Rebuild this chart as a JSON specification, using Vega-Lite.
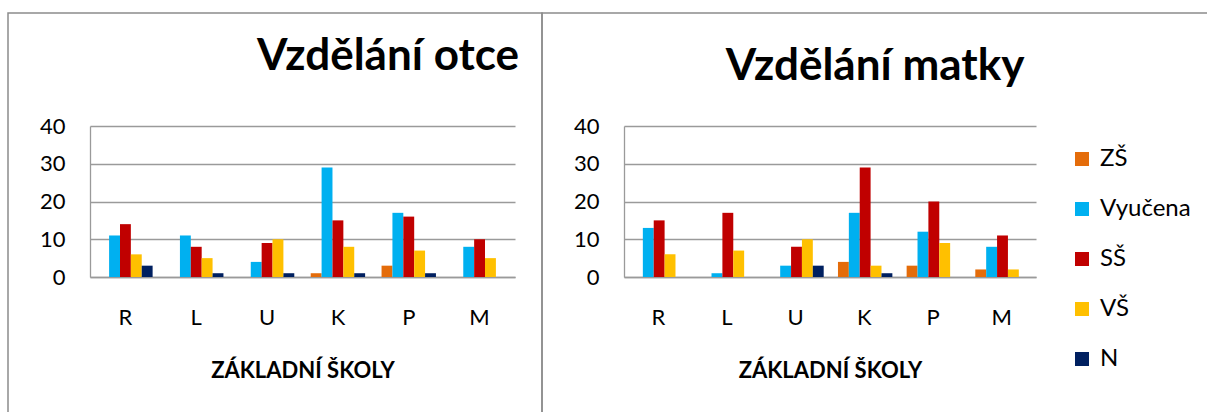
{
  "$schema": "https://vega.github.io/schema/vega-lite/v6.json",
  "padding": {"left": 7, "top": 12, "right": 0, "bottom": 0},
  "bounds": "flush",
  "spacing": 0,
  "background": "white",
  "datasets": {
    "otce": [
      {"skola": "R", "vzdelani": "ZŠ", "pocet": 0},
      {"skola": "R", "vzdelani": "Vyučena", "pocet": 11},
      {"skola": "R", "vzdelani": "SŠ", "pocet": 14},
      {"skola": "R", "vzdelani": "VŠ", "pocet": 6},
      {"skola": "R", "vzdelani": "N", "pocet": 3},
      {"skola": "L", "vzdelani": "ZŠ", "pocet": 0},
      {"skola": "L", "vzdelani": "Vyučena", "pocet": 11},
      {"skola": "L", "vzdelani": "SŠ", "pocet": 8},
      {"skola": "L", "vzdelani": "VŠ", "pocet": 5},
      {"skola": "L", "vzdelani": "N", "pocet": 1},
      {"skola": "U", "vzdelani": "ZŠ", "pocet": 0},
      {"skola": "U", "vzdelani": "Vyučena", "pocet": 4},
      {"skola": "U", "vzdelani": "SŠ", "pocet": 9},
      {"skola": "U", "vzdelani": "VŠ", "pocet": 10},
      {"skola": "U", "vzdelani": "N", "pocet": 1},
      {"skola": "K", "vzdelani": "ZŠ", "pocet": 1},
      {"skola": "K", "vzdelani": "Vyučena", "pocet": 29},
      {"skola": "K", "vzdelani": "SŠ", "pocet": 15},
      {"skola": "K", "vzdelani": "VŠ", "pocet": 8},
      {"skola": "K", "vzdelani": "N", "pocet": 1},
      {"skola": "P", "vzdelani": "ZŠ", "pocet": 3},
      {"skola": "P", "vzdelani": "Vyučena", "pocet": 17},
      {"skola": "P", "vzdelani": "SŠ", "pocet": 16},
      {"skola": "P", "vzdelani": "VŠ", "pocet": 7},
      {"skola": "P", "vzdelani": "N", "pocet": 1},
      {"skola": "M", "vzdelani": "ZŠ", "pocet": 0},
      {"skola": "M", "vzdelani": "Vyučena", "pocet": 8},
      {"skola": "M", "vzdelani": "SŠ", "pocet": 10},
      {"skola": "M", "vzdelani": "VŠ", "pocet": 5},
      {"skola": "M", "vzdelani": "N", "pocet": 0}
    ],
    "matky": [
      {"skola": "R", "vzdelani": "ZŠ", "pocet": 0},
      {"skola": "R", "vzdelani": "Vyučena", "pocet": 13},
      {"skola": "R", "vzdelani": "SŠ", "pocet": 15},
      {"skola": "R", "vzdelani": "VŠ", "pocet": 6},
      {"skola": "R", "vzdelani": "N", "pocet": 0},
      {"skola": "L", "vzdelani": "ZŠ", "pocet": 0},
      {"skola": "L", "vzdelani": "Vyučena", "pocet": 1},
      {"skola": "L", "vzdelani": "SŠ", "pocet": 17},
      {"skola": "L", "vzdelani": "VŠ", "pocet": 7},
      {"skola": "L", "vzdelani": "N", "pocet": 0},
      {"skola": "U", "vzdelani": "ZŠ", "pocet": 0},
      {"skola": "U", "vzdelani": "Vyučena", "pocet": 3},
      {"skola": "U", "vzdelani": "SŠ", "pocet": 8},
      {"skola": "U", "vzdelani": "VŠ", "pocet": 10},
      {"skola": "U", "vzdelani": "N", "pocet": 3},
      {"skola": "K", "vzdelani": "ZŠ", "pocet": 4},
      {"skola": "K", "vzdelani": "Vyučena", "pocet": 17},
      {"skola": "K", "vzdelani": "SŠ", "pocet": 29},
      {"skola": "K", "vzdelani": "VŠ", "pocet": 3},
      {"skola": "K", "vzdelani": "N", "pocet": 1},
      {"skola": "P", "vzdelani": "ZŠ", "pocet": 3},
      {"skola": "P", "vzdelani": "Vyučena", "pocet": 12},
      {"skola": "P", "vzdelani": "SŠ", "pocet": 20},
      {"skola": "P", "vzdelani": "VŠ", "pocet": 9},
      {"skola": "P", "vzdelani": "N", "pocet": 0},
      {"skola": "M", "vzdelani": "ZŠ", "pocet": 2},
      {"skola": "M", "vzdelani": "Vyučena", "pocet": 8},
      {"skola": "M", "vzdelani": "SŠ", "pocet": 11},
      {"skola": "M", "vzdelani": "VŠ", "pocet": 2},
      {"skola": "M", "vzdelani": "N", "pocet": 0}
    ]
  },
  "hconcat": [
    {
      "width": 534,
      "height": 400,
      "data": {"name": "otce"},
      "title": {"text": "Vzdělání otce", "anchor": "end", "frame": "group", "dx": -23, "dy": 101, "baseline": "alphabetic", "offset": 0},
      "mark": {"type": "bar"},
      "encoding": {
        "x": {
          "field": "skola", "type": "nominal", "sort": ["R", "L", "U", "K", "P", "M"],
          "scale": {"range": [82, 507], "paddingInner": 0.232, "paddingOuter": 0.116},
          "axis": {"title": "ZÁKLADNÍ ŠKOLY", "offset": -136, "labelAngle": 0, "labelBaseline": "middle", "labelPadding": 40, "titlePadding": 32, "ticks": false}
        },
        "xOffset": {"field": "vzdelani", "type": "nominal", "sort": ["ZŠ", "Vyučena", "SŠ", "VŠ", "N"]},
        "y": {
          "field": "pocet", "type": "quantitative",
          "scale": {"domain": [0, 40], "range": [264, 113], "nice": false},
          "axis": {"title": null, "values": [0, 10, 20, 30, 40], "offset": -82, "labelPadding": 25, "ticks": false, "grid": true}
        },
        "color": {
          "field": "vzdelani", "type": "nominal",
          "scale": {"domain": ["ZŠ", "Vyučena", "SŠ", "VŠ", "N"], "range": ["#E46C0A", "#00B0F0", "#C00000", "#FFC000", "#002060"]},
          "legend": null
        }
      }
    },
    {
      "width": 666,
      "height": 400,
      "data": {"name": "matky"},
      "title": {"text": "Vzdělání matky", "anchor": "middle", "frame": "group", "dy": 111, "baseline": "alphabetic", "offset": 0},
      "mark": {"type": "bar"},
      "encoding": {
        "x": {
          "field": "skola", "type": "nominal", "sort": ["R", "L", "U", "K", "P", "M"],
          "scale": {"range": [82, 494], "paddingInner": 0.232, "paddingOuter": 0.116},
          "axis": {"title": "ZÁKLADNÍ ŠKOLY", "offset": -136, "labelAngle": 0, "labelBaseline": "middle", "labelPadding": 40, "titlePadding": 32, "ticks": false}
        },
        "xOffset": {"field": "vzdelani", "type": "nominal", "sort": ["ZŠ", "Vyučena", "SŠ", "VŠ", "N"]},
        "y": {
          "field": "pocet", "type": "quantitative",
          "scale": {"domain": [0, 40], "range": [264, 113], "nice": false},
          "axis": {"title": null, "values": [0, 10, 20, 30, 40], "offset": -82, "labelPadding": 25, "ticks": false, "grid": true}
        },
        "color": {
          "field": "vzdelani", "type": "nominal",
          "scale": {"domain": ["ZŠ", "Vyučena", "SŠ", "VŠ", "N"], "range": ["#E46C0A", "#00B0F0", "#C00000", "#FFC000", "#002060"]},
          "legend": {"title": null, "orient": "none", "legendX": 528, "legendY": 134, "symbolType": "square", "symbolSize": 196, "symbolStrokeWidth": 0, "labelFontSize": 24, "labelFont": "Lato", "labelColor": "#000000", "rowPadding": 26, "labelOffset": 6, "padding": 0}
        }
      }
    }
  ],
  "resolve": {"scale": {"color": "independent", "x": "independent", "y": "independent"}, "legend": {"color": "independent"}},
  "config": {
    "view": {"stroke": "#8c8c8c", "strokeWidth": 1.5},
    "font": "Lato",
    "title": {"font": "Lato", "fontSize": 44, "fontWeight": "bold", "color": "#000000"},
    "axis": {
      "labelFont": "Lato", "labelFontSize": 22, "labelColor": "#000000",
      "titleFont": "Lato", "titleFontSize": 22, "titleFontWeight": "bold", "titleColor": "#000000",
      "domainColor": "#9a9a9a", "domainWidth": 1.3, "gridColor": "#9a9a9a", "gridWidth": 1.3
    }
  }
}
